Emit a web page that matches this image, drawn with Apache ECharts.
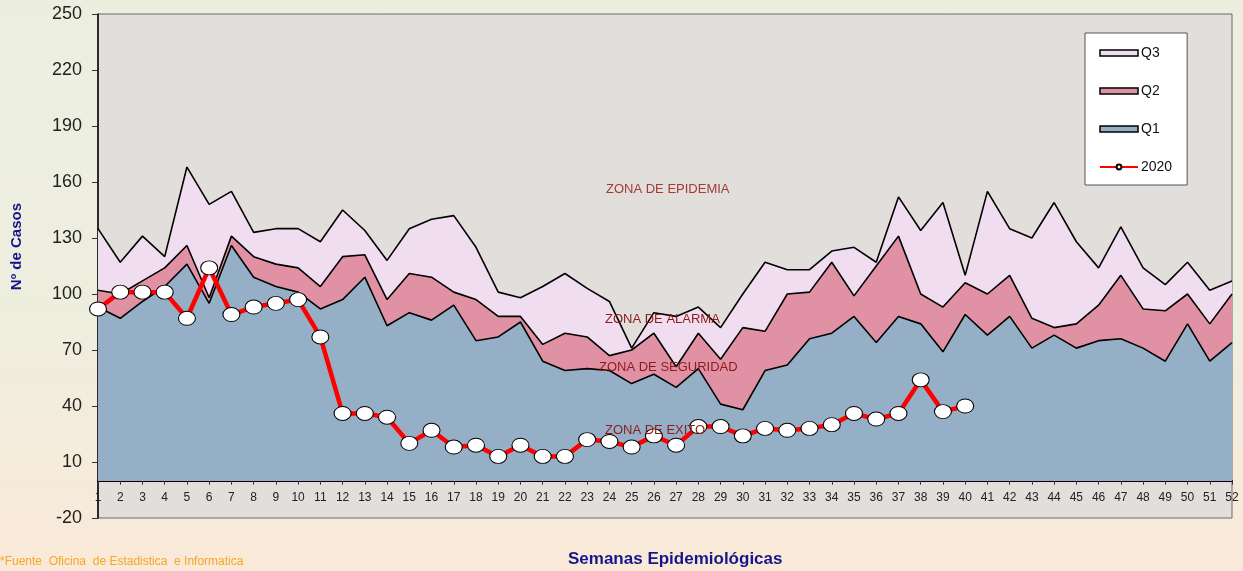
<!DOCTYPE html>
<html>
<head>
<meta charset="utf-8">
<script src="https://cdn.jsdelivr.net/npm/echarts@6/dist/echarts.min.js"></script>
<style>
html, body { margin: 0; padding: 0; }
#chart {
  width: 1243px;
  height: 571px;
  background: linear-gradient(to bottom, #ECEFE0 0%, #EEEEDF 55%, #F6EBDB 85%, #FAE9D9 100%);
}
</style>
</head>
<body>
<div id="chart"></div>
<script>
// semanas epidemiologicas
const weeks = ["1","2","3","4","5","6","7","8","9","10","11","12","13","14","15","16","17","18","19","20",
  "21","22","23","24","25","26","27","28","29","30","31","32","33","34","35","36","37","38","39","40",
  "41","42","43","44","45","46","47","48","49","50","51","52"]

// canal endemico (niveles acumulados)
const q3 = [135,117,131,120,168,148,155,133,135,135, 128,145,134,118,135,140,142,125,101,98,
  104,111,103,96,71,90,88,93,82,100, 117,113,113,123,125,117,152,134,149,110,
  155,135,130,149,128,114,136,114,105,117, 102,107]
const q2 = [102,100,107,114,126,98,131,120,116,114, 104,120,121,97,111,109,101,97,88,88,
  73,79,77,67,70,79,61,79,65,82, 80,100,101,117,99,115,131,100,93,106,
  100,110,87,82,84,94,110,92,91,100, 84,100]
const q1 = [93,87,96,104,116,95,126,109,104,101, 92,97,109,83,90,86,94,75,77,85,
  64,59,60,59,52,57,50,60,41,38, 59,62,76,79,88,74,88,84,69,89,
  78,88,71,78,71,75,76,71,64,84, 64,74]
// casos 2020
const y2020 = [92,101,101,101,87,114,89,93,95,97, 77,36,36,34,20,27,18,19,13,19,
  13,13,22,21,18,24,19,29,29,24, 28,27,28,30,36,33,36,54,37,40]

const yTicks = { min: -20, max: 250, step: 30 }

const zoneColor = "#8E1B1B"
const navy = "#16168A"

function areaSerie(name, data, color) {
  return {
    name: name,
    type: "line",
    data: data,
    color: color,
    showSymbol: false,
    symbol: "none",
    lineStyle: { color: "#000", width: 1.6 },
    areaStyle: { color: color, opacity: 1 },
    emphasis: { disabled: true },
  }
}

const myChart = echarts.init(document.getElementById("chart"))

const option = {
  animation: false,
  textStyle: { fontFamily: "Liberation Sans, Arial, sans-serif" },
  grid: {
    left: 98,
    right: 11,
    top: 14,
    bottom: 53,
    show: true,
    backgroundColor: "#E1DEDB",
    borderColor: "#6a6a6a",
    borderWidth: 1,
  },
  legend: {
    orient: "vertical",
    left: 1085,
    top: 33,
    padding: [13, 15, 11, 14],
    itemGap: 24,
    itemWidth: 38,
    itemHeight: 6,
    backgroundColor: "#fff",
    borderColor: "#555",
    borderWidth: 1,
    textStyle: { fontSize: 14, color: "#111", padding: [0, 0, 0, -2] },
    data: [
      { name: "Q3", icon: "rect", itemStyle: { borderColor: "#000", borderWidth: 1.5 } },
      { name: "Q2", icon: "rect", itemStyle: { borderColor: "#000", borderWidth: 1.5 } },
      { name: "Q1", icon: "rect", itemStyle: { borderColor: "#000", borderWidth: 1.5 } },
      { name: "2020" },
    ],
  },
  xAxis: {
    type: "category",
    data: weeks,
    boundaryGap: false,
    axisLine: { onZero: true, lineStyle: { color: "#000", width: 2 } },
    axisTick: { show: true, length: 4, lineStyle: { color: "#333" } },
    axisLabel: { interval: 0, fontSize: 12, color: "#222", margin: -26 },
    splitLine: { show: false },
  },
  yAxis: {
    type: "value",
    min: yTicks.min,
    max: yTicks.max,
    interval: yTicks.step,
    axisLine: { show: true, lineStyle: { color: "#000", width: 1.5 } },
    axisTick: { show: true, length: 6, lineStyle: { color: "#333" } },
    axisLabel: { fontSize: 18, color: "#222", margin: 16 },
    splitLine: { show: false },
  },
  graphic: [
    {
      type: "text",
      left: 9,
      top: 203,
      rotation: Math.PI / 2,
      style: { text: "Nº de Casos", font: "bold 15px Liberation Sans, Arial", fill: navy },
    },
    {
      type: "text",
      left: 568,
      top: 551,
      style: { text: "Semanas Epidemiológicas", font: "bold 17px Liberation Sans, Arial", fill: navy },
    },
    {
      type: "text",
      left: 0,
      top: 556,
      style: { text: "*Fuente  Oficina  de Estadistica  e Informatica", font: "12px Liberation Sans Narrow, Arial", fill: "#F5A623" },
    },
    // etiquetas de zonas
    { type: "text", left: 606, top: 183, z: 100, style: { text: "ZONA DE EPIDEMIA", font: "13px Liberation Sans, Arial", fill: "#A33A38" } },
    { type: "text", left: 605, top: 313, z: 100, style: { text: "ZONA DE ALARMA", font: "13px Liberation Sans, Arial", fill: zoneColor } },
    { type: "text", left: 599, top: 361, z: 100, style: { text: "ZONA DE SEGURIDAD", font: "13px Liberation Sans, Arial", fill: zoneColor } },
    { type: "text", left: 605, top: 424, z: 100, style: { text: "ZONA DE EXITO", font: "13px Liberation Sans, Arial", fill: zoneColor } },
  ],
  series: [
    areaSerie("Q3", q3, "#F0DEF0"),
    areaSerie("Q2", q2, "#E092A4"),
    areaSerie("Q1", q1, "#95AFC6"),
    {
      name: "2020",
      type: "line",
      data: y2020,
      color: "#FF0000",
      z: 5,
      symbol: "circle",
      symbolSize: [17, 14],
      itemStyle: { color: "#fff", borderColor: "#000", borderWidth: 1 },
      lineStyle: { color: "#FF0000", width: 4.5 },
      emphasis: { disabled: true },
    },
  ],
}

myChart.setOption(option)
</script>
</body>
</html>
